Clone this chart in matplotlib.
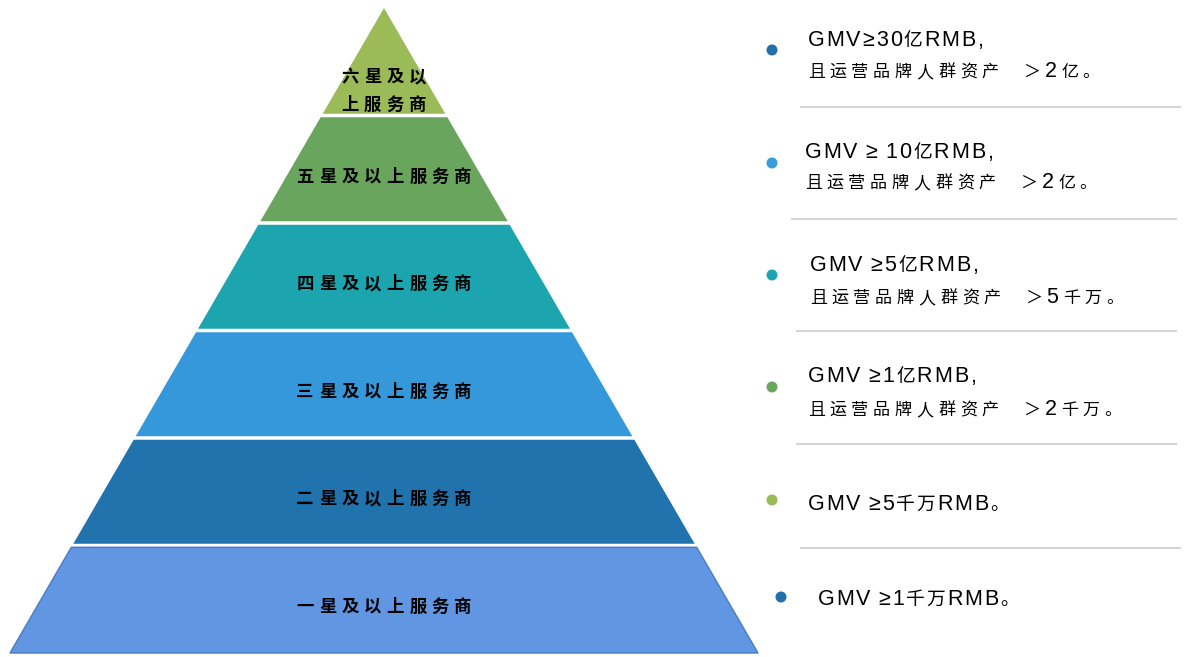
#!/usr/bin/env python3
"""
Service-provider star levels drawn as a pyramid, with the GMV
requirement of each level listed on the right.
"""
import matplotlib
matplotlib.use("Agg")
import matplotlib.pyplot as plt
from matplotlib.patches import Polygon, Circle
from matplotlib.font_manager import FontProperties
from matplotlib.textpath import text_to_path

# Pyramid tiers, bottom to top
tiers = ["一星及以上服务商", "二星及以上服务商", "三星及以上服务商",
         "四星及以上服务商", "五星及以上服务商", "六星及以上服务商"]
tier_colors = ["#6096E2", "#2073AC", "#3498DB", "#1CA5AE", "#69A55D", "#9BBB59"]

# Requirements, top to bottom (six star first)
req_line1 = ["GMV≥30亿RMB,", "GMV ≥ 10亿RMB,", "GMV ≥5亿RMB,",
             "GMV ≥1亿RMB,", "GMV ≥5千万RMB。", "GMV ≥1千万RMB。"]
req_line2 = ["且运营品牌人群资产 ＞2亿。", "且运营品牌人群资产 ＞2亿。",
             "且运营品牌人群资产 ＞5千万。", "且运营品牌人群资产 ＞2千万。", "", ""]
bullet_colors = ["#2170AC", "#3A9BDB", "#1CA5AE", "#69A55D", "#9BBB59", "#2170AC"]

W, H, DPI = 1189, 657, 100
PX = DPI / 72.0

LATIN = FontProperties(family=["Liberation Sans", "Noto Sans CJK SC"], size=15.5)
CJK_HEAD = FontProperties(family=["Noto Sans CJK SC"], weight="light", size=13.5)
CJK_THIN = FontProperties(family=["Noto Sans CJK SC"], weight="light", size=12.3)
CJK_BOLD = FontProperties(family=["Noto Sans CJK SC"], weight="bold", size=12.5)


def is_cjk(ch):
    return ord(ch) > 0x2E80


def char_width(ch, prop, space):
    if ch == " ":
        return space
    w, _, _ = text_to_path.get_text_width_height_descent(ch, prop, ismath=False)
    return w * PX


def spaced_text(ax, x, y, s, latin, cjk, track, center=False, space=5.0):
    """Lay out a string char by char with extra tracking (pixels)."""
    items = []
    for ch in s:
        prop = cjk if is_cjk(ch) else latin
        items.append((ch, prop, char_width(ch, prop, space)))
    total = sum(w for _, _, w in items) + track * (len(items) - 1)
    cx = x - total / 2 if center else x
    for ch, prop, w in items:
        if ch != " ":
            ax.text(cx, y, ch, fontproperties=prop, ha="left", va="baseline",
                    color="black")
        cx += w + track


fig = plt.figure(figsize=(W / DPI, H / DPI), dpi=DPI)
ax = fig.add_axes([0, 0, 1, 1])
ax.set_xlim(0, W)
ax.set_ylim(H, 0)
ax.axis("off")

# --- pyramid ---
apex_x, apex_y, base_y, base_half = 384, 8, 653, 374
gap = 3.5
n = len(tiers)
step = (base_y - apex_y) / n


def half_width(y):
    return base_half * (y - apex_y) / (base_y - apex_y)


for i, (name, col) in enumerate(zip(tiers, tier_colors)):
    bot = base_y - i * step
    top = bot - step
    t = top + (gap / 2 if i < n - 1 else 0)
    b = bot - (gap / 2 if i > 0 else 0)
    pts = [(apex_x - half_width(b), b), (apex_x + half_width(b), b),
           (apex_x + half_width(t), t), (apex_x - half_width(t), t)]
    edge = "#4A7CBF" if i == 0 else col
    ax.add_patch(Polygon(pts, closed=True, facecolor=col, edgecolor=edge,
                         linewidth=1.0 if i == 0 else 0.0))

    em = CJK_BOLD.get_size() * PX
    if i == n - 1:
        lines = [(name[:4], bot - 40), (name[4:], bot - 12)]
    else:
        lines = [(name, bot - 48)]
    for txt, yc in lines:
        spaced_text(ax, apex_x, yc + 0.38 * em, txt, CJK_BOLD, CJK_BOLD, 5.2,
                    center=True)

# --- requirement list ---
bullet_x = [772, 772, 772, 772, 772, 781]
bullet_y = [50, 163, 275, 387, 500, 597]
text_x = [808, 805, 810, 808, 808, 818]
base1 = [46, 158, 271, 382, 510, 605]
base2 = [77, 188, 303, 415, None, None]

for i in range(len(req_line1)):
    ax.add_patch(Circle((bullet_x[i], bullet_y[i]), 5.5, facecolor=bullet_colors[i],
                        edgecolor="none"))
    spaced_text(ax, text_x[i], base1[i], req_line1[i], LATIN, CJK_HEAD, 1.8,
                space=4.5)
    if req_line2[i]:
        spaced_text(ax, text_x[i], base2[i], req_line2[i], LATIN, CJK_THIN, 4.6,
                    space=15.0)

# separators between entries
sep_y = [107, 219, 331, 444, 548]
sep_x0 = [800, 791, 796, 796, 800]
sep_x1 = [1181, 1177, 1177, 1177, 1181]
for y, x0, x1 in zip(sep_y, sep_x0, sep_x1):
    ax.plot([x0, x1], [y, y], color="#D3D3D3", linewidth=1.4,
            solid_capstyle="butt")

fig.savefig("out.png", dpi=DPI, facecolor="white")
